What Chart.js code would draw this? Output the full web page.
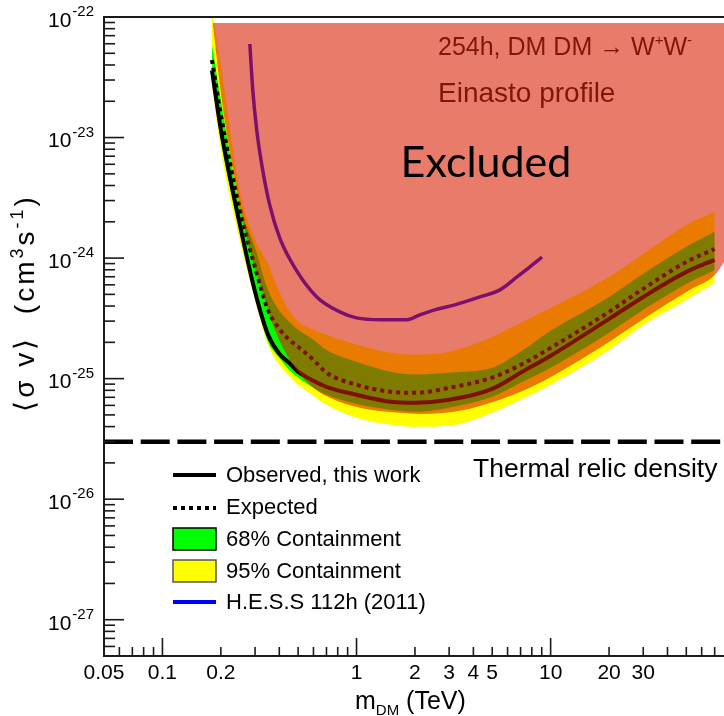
<!DOCTYPE html>
<html>
<head>
<meta charset="utf-8">
<script src="https://cdn.jsdelivr.net/npm/chart.js@4.4.1/dist/chart.umd.min.js"></script>
<style>
  html, body { margin: 0; padding: 0; background: #fff; }
  canvas { display: block; }
</style>
</head>
<body>
<canvas id="limits" width="724" height="716"></canvas>
<script>
// DM mass grid (TeV) and <sigma v> limits (cm^3 s^-1), WW channel, Einasto
const massTeV  = [0.18, 0.2, 0.25, 0.3, 0.35, 0.4, 0.45, 0.5, 0.6, 0.7, 1, 1.5, 2, 3, 5, 7, 10, 20, 30, 50, 70];
const observed = [3.6e-23, 1.16e-23, 1.92e-24, 5.25e-25, 2.31e-25, 1.61e-25, 1.35e-25, 1.14e-25, 9.6e-26, 8.55e-26, 7.34e-26, 6.43e-26, 6.3e-26, 6.67e-26, 8.23e-26, 1.12e-25, 1.55e-25, 3.13e-25, 4.76e-25, 7.68e-25, 9.66e-25];
const expected = [4.4e-23, 1.54e-23, 2.61e-24, 8.45e-25, 3.72e-25, 2.59e-25, 2.1e-25, 1.84e-25, 1.43e-25, 1.12e-25, 8.89e-26, 7.78e-26, 7.62e-26, 8.39e-26, 1.02e-25, 1.3e-25, 1.8e-25, 3.58e-25, 5.56e-25, 9.29e-25, 1.19e-24];
const up68 = [5.86e-23, 2.05e-23, 2.75e-24, 1.22e-24, 5.45e-25, 3.65e-25, 2.96e-25, 2.54e-25, 2.1e-25, 1.73e-25, 1.38e-25, 1.14e-25, 1.08e-25, 1.12e-25, 1.23e-25, 1.67e-25, 2.49e-25, 4.76e-25, 7.4e-25, 1.24e-24, 1.65e-24];
const lo68 = [3.12e-23, 9.55e-24, 1.71e-24, 4.86e-25, 2.02e-25, 1.49e-25, 1.18e-25, 1.02e-25, 8.39e-26, 7.34e-26, 6.18e-26, 5.51e-26, 5.31e-26, 5.73e-26, 7.06e-26, 9.23e-26, 1.23e-25, 2.4e-25, 3.72e-25, 6.1e-25, 7.97e-25];
const up95 = [1.15e-22, 4.0e-23, 3.68e-24, 1.42e-24, 8.95e-25, 5.25e-25, 3.65e-25, 2.96e-25, 2.54e-25, 2.31e-25, 1.91e-25, 1.64e-25, 1.58e-25, 1.67e-25, 2.22e-25, 2.9e-25, 3.86e-25, 6.98e-25, 1.08e-24, 1.88e-24, 2.42e-24];
const lo95 = [2.73e-23, 7.88e-24, 1.42e-24, 4.5e-25, 1.91e-25, 1.3e-25, 1.05e-25, 8.89e-26, 7.19e-26, 6.07e-26, 4.73e-26, 4.14e-26, 3.98e-26, 4.06e-26, 5.2e-26, 6.67e-26, 8.89e-26, 1.73e-25, 2.79e-25, 4.5e-25, 6.22e-25];

// older H.E.S.S. 112h limit
const hessMass  = [0.282, 0.292, 0.306, 0.325, 0.357, 0.402, 0.481, 0.624, 0.82, 1.0, 1.32, 1.82, 2.12, 2.53, 3.21, 4.32, 5.48, 6.71, 7.82, 9.02];
const hessLimit = [5.97e-23, 2.48e-23, 1.16e-23, 5.93e-24, 2.76e-24, 1.47e-24, 8.3e-25, 4.76e-25, 3.58e-25, 3.19e-25, 3.08e-25, 3.08e-25, 3.38e-25, 3.72e-25, 4.09e-25, 4.76e-25, 5.45e-25, 6.98e-25, 8.45e-25, 1.02e-24];

// shaded "Excluded" area: lower edge, filled up to exclTop
const exclMass = [0.1816, 0.2021, 0.2359, 0.2594, 0.2818, 0.3249, 0.3792, 0.4531, 0.5743, 0.7285, 1.04, 1.672, 2.12, 3.41, 5.48, 7.82, 11.2, 17.96, 32.5, 52.3, 70.3, 78.2];
const exclLow  = [8.9e-23, 2.05e-23, 4.45e-24, 2.07e-24, 1.17e-24, 5.45e-25, 2.54e-25, 1.43e-25, 8.89e-26, 6.93e-26, 5.73e-26, 5.2e-26, 5.1e-26, 5.41e-26, 6.67e-26, 8.39e-26, 1.14e-25, 1.8e-25, 3.38e-25, 5.45e-25, 7.26e-25, 9.29e-25];
const exclTop = 8.9e-23;

// thermal relic cross section
const relicMass = [0.05, 78.2];
const relicLevel = 3e-26;

// axis ticks
const yTickExp = [-27, -26, -25, -24, -23, -22];
const xTickLabels = [0.05, 0.1, 0.2, 1, 2, 3, 4, 5, 10, 20, 30];

const SANS = '"Liberation Sans", Arial, Helvetica, sans-serif';

function pts(xs, ys) {
  return xs.map((x, i) => ({x: x, y: ys[i]}));
}

const smooth = {cubicInterpolationMode: 'monotone'};

const datasets = [
  {data: pts(massTeV, up95), fill: '+1', backgroundColor: '#ffff00', borderWidth: 0, order: 8, ...smooth},
  {data: pts(massTeV, lo95), fill: false, borderWidth: 0, order: 7, ...smooth},
  {data: pts(massTeV, up68), fill: '+1', backgroundColor: '#00ff00', borderWidth: 0, order: 6, ...smooth},
  {data: pts(massTeV, lo68), fill: false, borderWidth: 0, order: 5, ...smooth},
  {data: pts(relicMass, [relicLevel, relicLevel]), borderColor: '#000', borderWidth: 4.5, borderDash: [29, 7.7], order: 4},
  {data: pts(massTeV, observed), borderColor: '#000', borderWidth: 4, order: 3, ...smooth},
  {data: pts(massTeV, expected), borderColor: '#000', borderWidth: 4, borderDash: [4, 4], order: 2, ...smooth},
  {data: pts(hessMass, hessLimit), borderColor: '#0000ff', borderWidth: 3.5, order: 1, ...smooth},
  {data: pts(exclMass, exclLow), fill: {value: exclTop}, backgroundColor: 'rgba(217,27,0,0.58)', borderWidth: 0, order: 0, ...smooth}
];

function supText(ctx, parts, x, y) {
  // parts: [text, size, dy]
  let cx = x;
  parts.forEach(p => {
    ctx.font = p[1] + 'px ' + SANS;
    ctx.fillText(p[0], cx, y + p[2]);
    cx += ctx.measureText(p[0]).width;
  });
  return cx;
}

function partsWidth(ctx, parts) {
  let w = 0;
  parts.forEach(p => {
    ctx.font = p[1] + 'px ' + SANS;
    w += ctx.measureText(p[0]).width;
  });
  return w;
}

const frame = {
  id: 'frame',
  afterDatasetsDraw(chart) {
    const {ctx, chartArea: a, scales: {x, y}} = chart;
    ctx.save();
    ctx.strokeStyle = '#1a1a1a';
    ctx.lineWidth = 2;
    ctx.beginPath();
    ctx.moveTo(a.right, a.top);
    ctx.lineTo(a.left, a.top);
    ctx.lineTo(a.left, a.bottom);
    ctx.lineTo(a.right, a.bottom);
    ctx.stroke();

    ctx.lineWidth = 1.6;
    // log ticks on y, drawn inward
    for (let e = -28; e <= -22; e++) {
      for (let k = 1; k <= 9; k++) {
        const v = k * Math.pow(10, e);
        if (v < y.min * 0.999 || v > y.max * 1.001) continue;
        const py = y.getPixelForValue(v);
        const len = k === 1 ? 20 : 11;
        ctx.beginPath();
        ctx.moveTo(a.left, py);
        ctx.lineTo(a.left + len, py);
        ctx.stroke();
      }
    }
    // log ticks on x
    for (let e = -2; e <= 1; e++) {
      for (let k = 1; k <= 9; k++) {
        const v = k * Math.pow(10, e);
        if (v <= x.min * 1.001 || v > x.max) continue;
        const px = x.getPixelForValue(v);
        const len = k === 1 ? 18 : 9;
        ctx.beginPath();
        ctx.moveTo(px, a.bottom);
        ctx.lineTo(px, a.bottom - len);
        ctx.stroke();
      }
    }
    ctx.restore();
  },
  afterDraw(chart) {
    const {ctx, scales: {x, y}} = chart;
    ctx.save();
    ctx.fillStyle = '#000';
    ctx.textBaseline = 'middle';

    // y tick labels 10^n
    yTickExp.forEach(e => {
      const py = y.getPixelForValue(Math.pow(10, e));
      ctx.textAlign = 'left';
      ctx.font = '21px ' + SANS;
      ctx.fillText('10', 48, py + 4);
      const w = ctx.measureText('10').width;
      ctx.font = '15px ' + SANS;
      ctx.fillText(String(e), 48 + w + 1, py - 5);
    });

    // x tick labels
    ctx.textAlign = 'center';
    ctx.font = '21px ' + SANS;
    xTickLabels.forEach(v => {
      ctx.fillText(String(v), x.getPixelForValue(v), 673);
    });

    // x title
    ctx.textAlign = 'left';
    ctx.textBaseline = 'alphabetic';
    supText(ctx, [['m', 25, 0], ['DM', 15, 6], [' (TeV)', 25, 0]], 355, 709);

    // y title, rotated, slightly spaced out
    const yParts = [['\u27E8\u03C3 v\u27E9  (cm', 28, 0], ['3', 18, -11], ['s', 28, 0], ['-1', 18, -11], [')', 28, 0]];
    ctx.save();
    ctx.letterSpacing = '3px';
    ctx.translate(34, 303);
    ctx.rotate(-Math.PI / 2);
    supText(ctx, yParts, -partsWidth(ctx, yParts) / 2, 0);
    ctx.restore();

    // legend
    const lx0 = 173, lx1 = 216, tx = 226;
    ctx.font = '22px ' + SANS;
    ctx.textBaseline = 'middle';
    ctx.lineWidth = 4;
    ctx.strokeStyle = '#000';
    ctx.beginPath(); ctx.moveTo(lx0, 475); ctx.lineTo(lx1, 475); ctx.stroke();
    ctx.fillText('Observed, this work', tx, 476);
    ctx.setLineDash([4, 4]);
    ctx.beginPath(); ctx.moveTo(lx0, 508); ctx.lineTo(lx1, 508); ctx.stroke();
    ctx.setLineDash([]);
    ctx.fillText('Expected', tx, 508);
    ctx.lineWidth = 1.5;
    ctx.fillStyle = '#00ff00';
    ctx.fillRect(lx0, 528, lx1 - lx0, 22);
    ctx.strokeRect(lx0, 528, lx1 - lx0, 22);
    ctx.fillStyle = '#ffff00';
    ctx.fillRect(lx0, 560, lx1 - lx0, 22);
    ctx.strokeStyle = '#555';
    ctx.strokeRect(lx0, 560, lx1 - lx0, 22);
    ctx.fillStyle = '#000';
    ctx.fillText('68% Containment', tx, 540);
    ctx.fillText('95% Containment', tx, 572);
    ctx.strokeStyle = '#0000ff';
    ctx.lineWidth = 4;
    ctx.beginPath(); ctx.moveTo(lx0, 602); ctx.lineTo(lx1, 602); ctx.stroke();
    ctx.fillText('H.E.S.S 112h (2011)', tx, 603);

    // thermal relic label
    ctx.font = '26.5px ' + SANS;
    ctx.fillText('Thermal relic density', 473, 470);

    // channel / profile labels
    ctx.fillStyle = 'rgb(128,22,8)';
    ctx.textBaseline = 'alphabetic';
    const chEnd = supText(ctx, [['254h, DM DM \u2192 W', 25, 0], ['+', 15, -10], ['W', 25, 0]], 438, 55);
    ctx.font = '15px ' + SANS;
    ctx.fillText('-', chEnd, 45);
    ctx.font = '28px ' + SANS;
    ctx.fillText('Einasto profile', 438, 102);

    // excluded region label
    ctx.fillStyle = '#000';
    ctx.font = '43px Lato, "Open Sans", sans-serif';
    ctx.textAlign = 'center';
    ctx.textBaseline = 'middle';
    ctx.fillText('Excluded', 486, 163);
    ctx.restore();
  }
};

new Chart(document.getElementById('limits'), {
  type: 'line',
  data: {datasets: datasets},
  options: {
    responsive: false,
    animation: false,
    layout: {padding: {left: 104, top: 17, right: 0, bottom: 60}},
    elements: {point: {radius: 0}, line: {tension: 0}},
    plugins: {legend: {display: false}, tooltip: {enabled: false}},
    scales: {
      x: {type: 'logarithmic', min: 0.05, max: 78.2, display: false},
      y: {type: 'logarithmic', min: 5e-28, max: 1e-22, display: false}
    }
  },
  plugins: [frame]
});
</script>
</body>
</html>
